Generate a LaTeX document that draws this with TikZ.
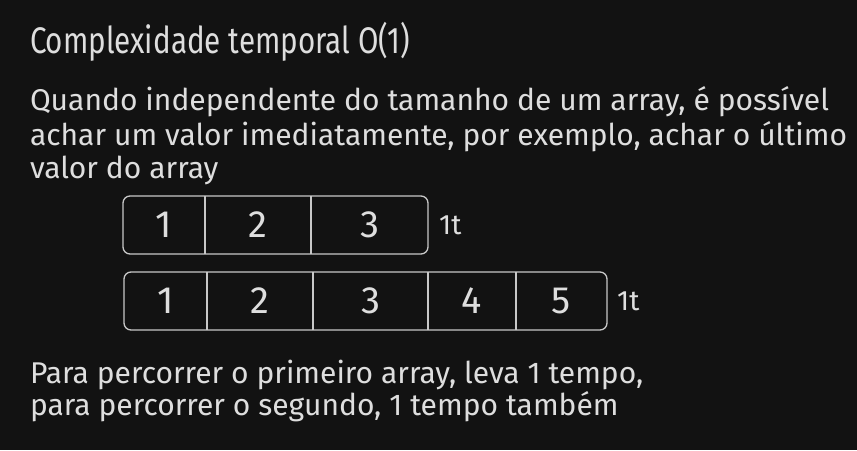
\documentclass[tikz,border=0pt]{standalone}
\usepackage{fontspec}
\setmainfont{Fira Sans}
\newfontfamily\headfont[FakeStretch=0.8]{Fira Sans}
\usetikzlibrary{positioning}

\definecolor{bgdark}{HTML}{121212}
\definecolor{inkgray}{HTML}{DEDEDE}

\begin{document}
\begin{tikzpicture}[x=1pt,y=-1pt]
\tikzstyle{txt}=[anchor=base west,inner sep=0pt,outer sep=0pt,text=inkgray,font=\fontsize{30}{34}\selectfont]
\tikzstyle{cell}=[minimum height=58pt,inner sep=0pt,outer sep=0pt,text=inkgray,font=\fontsize{38}{40}\selectfont]
\tikzstyle{frame}=[draw=inkgray!90!black,line width=1.3pt,rounded corners=7pt]
\tikzstyle{divider}=[draw=inkgray!90!black,line width=1.3pt]
\tikzstyle{cost}=[anchor=west,inner sep=0pt,text=inkgray,font=\fontsize{28}{30}\selectfont]

	\fill[bgdark] (0,0) rectangle (857,450);
	\useasboundingbox (0,0) rectangle (857,450);

	\node (title) [txt,font=\headfont\fontsize{37}{42}\selectfont] at (30,53) {Complexidade temporal O(1)};

	\node (intro1) [txt] at (30,110) {Quando independente do tamanho de um array, é possível};
	\node (intro2) [txt] at (30,145) {achar um valor imediatamente, por exemplo, achar o último};
	\node (intro3) [txt] at (30,178) {valor do array};

	% primeiro array
	\node (a1) [cell,minimum width=82pt,anchor=north west] at (123,196) {1};
	\node (a2) [cell,minimum width=106pt,right=0pt of a1] {2};
	\node (a3) [cell,minimum width=117pt,right=0pt of a2] {3};
	\draw [frame] (a1.north west) rectangle (a3.south east);
	\draw [divider] (a1.north east) -- (a1.south east);
	\draw [divider] (a2.north east) -- (a2.south east);
	\node (costa) [cost,right=11pt of a3] {1t};

	% segundo array
	\node (b1) [cell,minimum width=83pt,anchor=north west] at (124,272) {1};
	\node (b2) [cell,minimum width=106pt,right=0pt of b1] {2};
	\node (b3) [cell,minimum width=115pt,right=0pt of b2] {3};
	\node (b4) [cell,minimum width=88pt,right=0pt of b3] {4};
	\node (b5) [cell,minimum width=91pt,right=0pt of b4] {5};
	\draw [frame] (b1.north west) rectangle (b5.south east);
	\foreach \c in {b1,b2,b3,b4}
		\draw [divider] (\c.north east) -- (\c.south east);
	\node (costb) [cost,right=10pt of b5] {1t};

	\node (outro1) [txt] at (30,383) {Para percorrer o primeiro array, leva 1 tempo,};
	\node (outro2) [txt] at (30,415) {para percorrer o segundo, 1 tempo também};

\end{tikzpicture}
\end{document}
